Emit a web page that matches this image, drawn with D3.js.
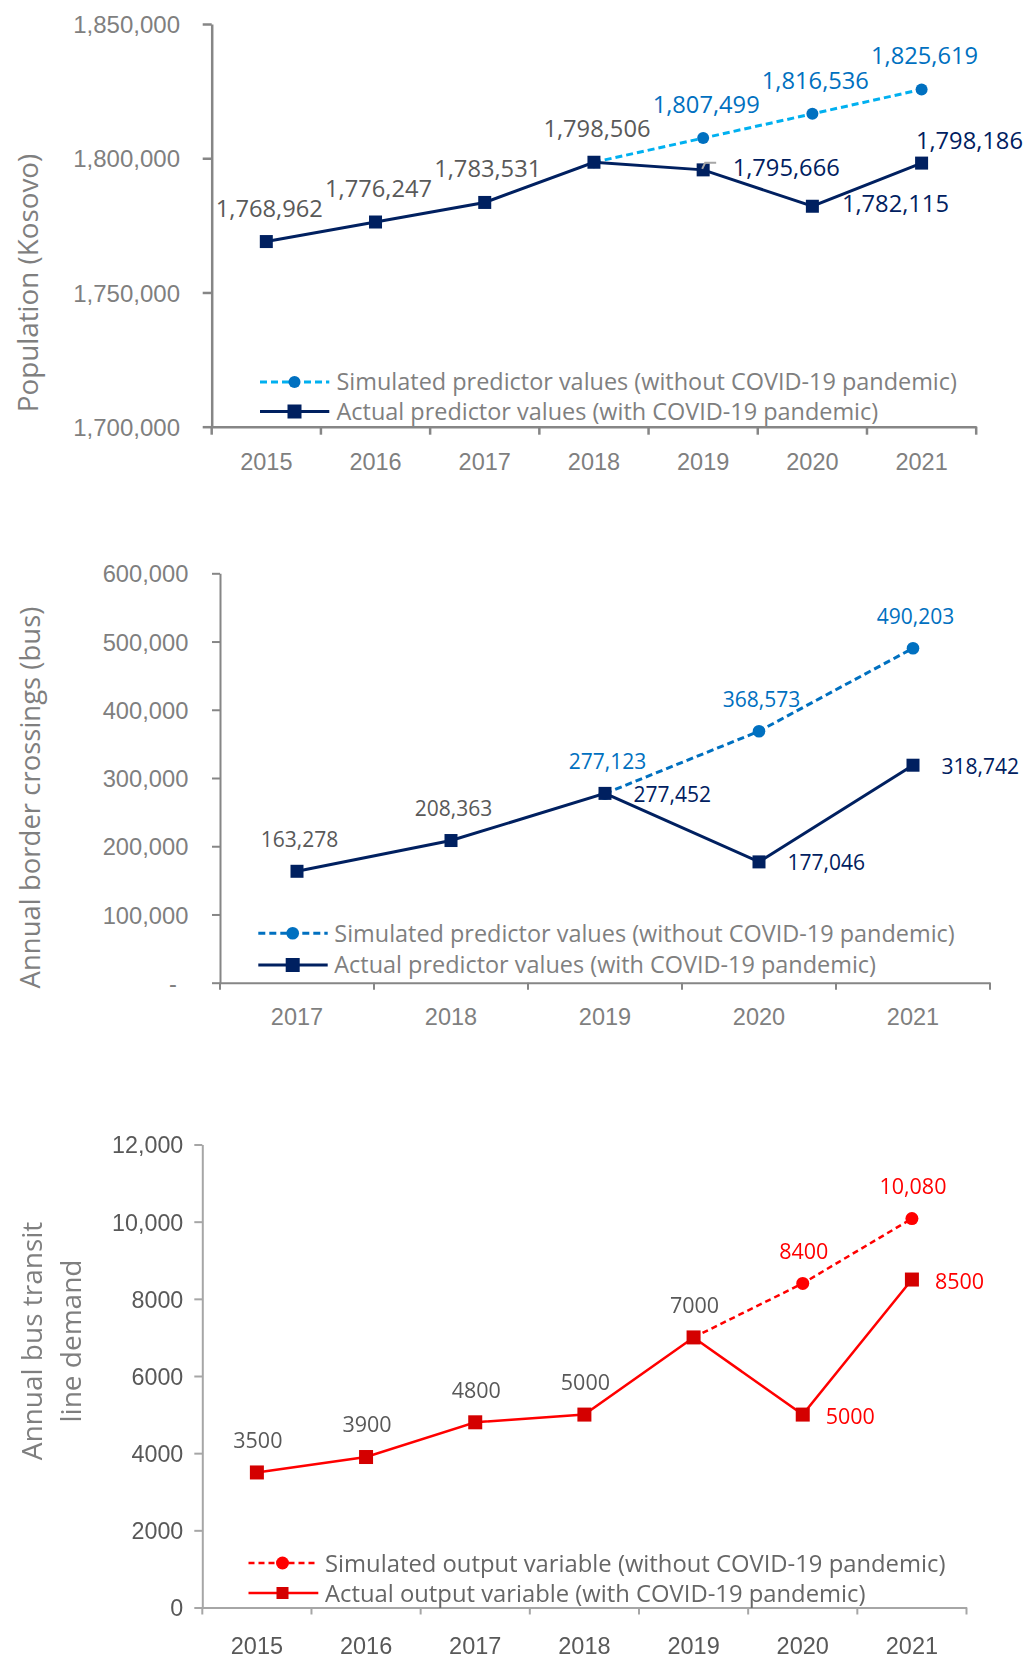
<!DOCTYPE html>
<html>
<head>
<meta charset="utf-8">
<script src="https://cdn.jsdelivr.net/npm/d3@7"></script>
<style>
  html, body { margin: 0; padding: 0; background: #ffffff; }
  svg { display: block; font-family: "Open Sans", "Noto Sans", sans-serif; }
</style>
</head>
<body>
<svg id="fig" width="1036" height="1659"></svg>
<script>
// ---- Population of Kosovo ----
const popYears = ["2015", "2016", "2017", "2018", "2019", "2020", "2021"];
const popActual = [1768962, 1776247, 1783531, 1798506, 1795666, 1782115, 1798186];
const popSimulated = [null, null, null, 1798506, 1807499, 1816536, 1825619];
const popTicks = [1700000, 1750000, 1800000, 1850000];
const popTickLabels = ["1,700,000", "1,750,000", "1,800,000", "1,850,000"];

// ---- Annual border crossings by bus ----
const borderYears = ["2017", "2018", "2019", "2020", "2021"];
const borderActual = [163278, 208363, 277452, 177046, 318742];
const borderSimulated = [null, null, 277123, 368573, 490203];
const borderTicks = [0, 100000, 200000, 300000, 400000, 500000, 600000];
const borderTickLabels = ["-", "100,000", "200,000", "300,000", "400,000", "500,000", "600,000"];

// ---- Annual bus transit line demand ----
const demandYears = ["2015", "2016", "2017", "2018", "2019", "2020", "2021"];
const demandActual = [3500, 3900, 4800, 5000, 7000, 5000, 8500];
const demandSimulated = [null, null, null, null, 7000, 8400, 10080];
const demandTicks = [0, 2000, 4000, 6000, 8000, 10000, 12000];
const demandTickLabels = ["0", "2000", "4000", "6000", "8000", "10,000", "12,000"];

const svg = d3.select("#fig");
svg.append("rect").attr("width", 1036).attr("height", 1659).attr("fill", "#ffffff");
const defs = svg.append("defs");
defs.append("filter").attr("id", "soft")
  .append("feGaussianBlur").attr("stdDeviation", 0.5);

const commaFmt = d3.format(",");

function drawPanel(p) {
  const g = svg.append("g");
  if (p.soft) g.attr("filter", "url(#soft)");

  const x = d3.scaleBand().domain(p.years).range([p.left, p.right]);
  const y = d3.scaleLinear().domain(p.domain).range([p.bottom, p.top]);
  const cx = yr => x(yr) + x.bandwidth() / 2;

  // value axis
  const yAxis = d3.axisLeft(y)
    .tickValues(p.ticks)
    .tickFormat((d, i) => p.tickLabels[i])
    .tickSize(p.yTickLen)
    .tickSizeOuter(0)
    .tickPadding(p.left - p.tickLabelRight - p.yTickLen);
  const ya = g.append("g").attr("transform", `translate(${p.left},0)`).call(yAxis);
  ya.select(".domain").attr("stroke", p.axisColor).attr("stroke-width", p.axisWidth);
  ya.selectAll(".tick line").attr("stroke", p.axisColor).attr("stroke-width", p.axisWidth);
  ya.selectAll(".tick text")
    .attr("fill", p.tickColor)
    .attr("font-size", p.tickSize)
    .attr("font-family", null)
    .attr("dy", "0.36em")
    .filter(d => d === 0 && p.zeroDash)
    .attr("x", -(p.left - p.zeroDash));

  // category axis: labels at band centres, tick marks on band edges
  const xAxis = d3.axisBottom(x).tickSize(0).tickSizeOuter(0);
  const xa = g.append("g").attr("transform", `translate(0,${p.bottom})`).call(xAxis);
  xa.select(".domain").attr("stroke", p.axisColor).attr("stroke-width", p.axisWidth);
  xa.selectAll(".tick text")
    .attr("fill", p.yearColor)
    .attr("font-size", p.yearSize)
    .attr("font-family", null)
    .attr("y", p.yearY - p.bottom)
    .attr("dy", "0.36em");
  const edges = p.years.map(yr => x(yr)).concat([p.right]);
  g.append("g").selectAll("line").data(edges).join("line")
    .attr("x1", d => d).attr("x2", d => d)
    .attr("y1", p.bottom).attr("y2", p.bottom + p.xTickLen)
    .attr("stroke", p.axisColor).attr("stroke-width", p.axisWidth);

  // axis title (rotated, possibly multi-line)
  p.title.forEach((t, i) => {
    g.append("text")
      .attr("transform", `translate(${p.titleX[i]},${p.titleY}) rotate(-90)`)
      .attr("text-anchor", "middle")
      .attr("dy", "0.36em")
      .attr("font-size", p.titleSize)
      .attr("fill", p.titleColor)
      .text(t);
  });

  const actual = p.years.map((yr, i) => ({ yr, v: p.actual[i], i }));
  const sim = p.years.map((yr, i) => ({ yr, v: p.simulated[i], i }));
  const line = d3.line().defined(d => d.v != null).x(d => cx(d.yr)).y(d => y(d.v));

  // simulated series (dashed)
  g.append("path").datum(sim).attr("d", line)
    .attr("fill", "none").attr("stroke", p.simLine)
    .attr("stroke-width", p.lineWidth).attr("stroke-dasharray", p.dash);
  g.append("g").selectAll("circle").data(sim.filter(d => d.v != null)).join("circle")
    .attr("cx", d => cx(d.yr)).attr("cy", d => y(d.v)).attr("r", p.circleR)
    .attr("fill", p.simMarker);

  // actual series (solid)
  g.append("path").datum(actual).attr("d", line)
    .attr("fill", "none").attr("stroke", p.actLine).attr("stroke-width", p.lineWidth);
  g.append("g").selectAll("rect").data(actual).join("rect")
    .attr("x", d => cx(d.yr) - p.square / 2).attr("y", d => y(d.v) - p.square / 2)
    .attr("width", p.square).attr("height", p.square)
    .attr("fill", p.actMarker);

  // leader line for a displaced label
  if (p.leader != null) {
    const d = actual[p.leader];
    const px = cx(d.yr), py = y(d.v);
    g.append("path")
      .attr("d", `M${px + 13},${py - 7} H${px + 2} L${px - 1},${py - 1}`)
      .attr("fill", "none").attr("stroke", "#a6a6a6").attr("stroke-width", 2);
  }

  // data labels
  const labels = g.append("g").attr("font-size", p.labelSize);
  actual.forEach(d => {
    const place = p.placement[d.i];
    const px = cx(d.yr), py = y(d.v);
    const t = labels.append("text").attr("dy", "0.36em").text(p.fmt(d.v));
    if (place === "above") {
      t.attr("x", px + p.aboveDx).attr("y", py + p.aboveDy)
        .attr("text-anchor", "middle").attr("fill", p.labelGrey);
    } else if (place === "right") {
      t.attr("x", px + p.rightDx).attr("y", py + p.rightDy)
        .attr("text-anchor", "start").attr("fill", p.actLabel);
    } else {
      t.attr("x", px + p.aboveRightDx).attr("y", py + p.aboveRightDy)
        .attr("text-anchor", "start").attr("fill", p.actLabel);
    }
  });
  sim.filter(d => d.v != null && d.v !== p.actual[d.i]).forEach(d => {
    labels.append("text").attr("dy", "0.36em")
      .attr("x", cx(d.yr) + p.aboveDx).attr("y", y(d.v) + p.aboveDy)
      .attr("text-anchor", "middle").attr("fill", p.simLabel)
      .text(p.fmt(d.v));
  });

  // legend
  const lg = g.append("g");
  const [r1, r2] = p.legendRows;
  lg.append("line").attr("x1", p.legendX0).attr("x2", p.legendX1).attr("y1", r1).attr("y2", r1)
    .attr("stroke", p.simLine).attr("stroke-width", p.lineWidth).attr("stroke-dasharray", p.dash);
  lg.append("circle").attr("cx", p.legendMark).attr("cy", r1).attr("r", p.circleR).attr("fill", p.simMarker);
  lg.append("line").attr("x1", p.legendX0).attr("x2", p.legendX1).attr("y1", r2).attr("y2", r2)
    .attr("stroke", p.actLine).attr("stroke-width", p.lineWidth);
  lg.append("rect").attr("x", p.legendMark - p.legendSquare / 2).attr("y", r2 - p.legendSquare / 2)
    .attr("width", p.legendSquare).attr("height", p.legendSquare).attr("fill", p.actMarker);
  [p.legendText[0], p.legendText[1]].forEach((t, i) => {
    lg.append("text").attr("x", p.legendTextX).attr("y", p.legendRows[i]).attr("dy", "0.36em")
      .attr("font-size", p.legendSize).attr("fill", p.legendColor).text(t);
  });
}

// Panel 1: population
drawPanel({
  years: popYears, actual: popActual, simulated: popSimulated,
  ticks: popTicks, tickLabels: popTickLabels, domain: [1700000, 1850000],
  left: 211.7, right: 976.2, top: 24, bottom: 426.7,
  axisColor: "#868686", axisWidth: 2.5, yTickLen: 9, xTickLen: 8,
  tickLabelRight: 180, tickSize: 24, tickColor: "#7f7f7f",
  yearY: 461.5, yearSize: 23.5, yearColor: "#7f7f7f",
  title: ["Population (Kosovo)"], titleX: [28], titleY: 283, titleSize: 27.8, titleColor: "#7f7f7f",
  actLine: "#002060", actMarker: "#002060", actLabel: "#002060",
  simLine: "#00b0f0", simMarker: "#0070c0", simLabel: "#0070c0",
  lineWidth: 3, dash: "7,4", square: 13, circleR: 6,
  fmt: commaFmt, labelSize: 23.7, labelGrey: "#595959",
  placement: ["above", "above", "above", "above", "right", "right", "aboveRight"],
  aboveDx: 3, aboveDy: -33.5, rightDx: 29.5, rightDy: -2.5, aboveRightDx: -5.7, aboveRightDy: -22.5,
  leader: 4,
  legendX0: 260, legendX1: 329.3, legendMark: 294.5, legendRows: [382, 411.5], legendSquare: 14,
  legendTextX: 336.5, legendSize: 23.45, legendColor: "#7f7f7f",
  legendText: ["Simulated predictor values (without COVID-19 pandemic)",
               "Actual predictor values (with COVID-19 pandemic)"]
});

// Panel 2: border crossings
drawPanel({
  years: borderYears, actual: borderActual, simulated: borderSimulated,
  ticks: borderTicks, tickLabels: borderTickLabels, domain: [0, 600000], zeroDash: 177,
  left: 220, right: 990, top: 573.3, bottom: 982.7,
  axisColor: "#868686", axisWidth: 2, yTickLen: 8, xTickLen: 7,
  tickLabelRight: 188.3, tickSize: 23.7, tickColor: "#7f7f7f",
  yearY: 1017, yearSize: 23.5, yearColor: "#7f7f7f",
  title: ["Annual border crossings (bus)"], titleX: [30], titleY: 797.5, titleSize: 27.5, titleColor: "#7f7f7f",
  actLine: "#002060", actMarker: "#002060", actLabel: "#002060",
  simLine: "#0070c0", simMarker: "#0070c0", simLabel: "#0070c0",
  lineWidth: 3, dash: "7,4", square: 13, circleR: 6.3,
  fmt: commaFmt, labelSize: 21, labelGrey: "#595959",
  placement: ["above", "above", "right", "right", "right"],
  aboveDx: 2.5, aboveDy: -32, rightDx: 28.5, rightDy: 1,
  leader: null,
  legendX0: 258.3, legendX1: 327.7, legendMark: 292.7, legendRows: [933.3, 965], legendSquare: 14,
  legendTextX: 334.3, legendSize: 23.45, legendColor: "#7f7f7f",
  legendText: ["Simulated predictor values (without COVID-19 pandemic)",
               "Actual predictor values (with COVID-19 pandemic)"]
});

// Panel 3: bus transit line demand
drawPanel({
  years: demandYears, actual: demandActual, simulated: demandSimulated,
  ticks: demandTicks, tickLabels: demandTickLabels, domain: [0, 12000],
  left: 202.3, right: 966.5, top: 1144.5, bottom: 1607.5,
  axisColor: "#a6a6a6", axisWidth: 2, yTickLen: 8, xTickLen: 7,
  tickLabelRight: 183.3, tickSize: 23.3, tickColor: "#595959",
  yearY: 1646, yearSize: 23.5, yearColor: "#595959",
  title: ["Annual bus transit", "line demand"], titleX: [32, 71], titleY: 1341, titleSize: 28, titleColor: "#7f7f7f",
  actLine: "#ff0000", actMarker: "#d40000", actLabel: "#ff0000",
  simLine: "#ff0000", simMarker: "#ff0000", simLabel: "#ff0000",
  lineWidth: 2.5, dash: "6,4", square: 14, circleR: 6.5,
  fmt: v => v >= 10000 ? commaFmt(v) : String(v), labelSize: 21.5, labelGrey: "#595959",
  placement: ["above", "above", "above", "above", "above", "right", "right"],
  aboveDx: 1, aboveDy: -32.5, rightDx: 23, rightDy: 1.5,
  leader: null, soft: true,
  legendX0: 248.5, legendX1: 318.3, legendMark: 282.5, legendRows: [1563, 1593], legendSquare: 12,
  legendTextX: 325, legendSize: 23.8, legendColor: "#666666",
  legendText: ["Simulated output variable (without COVID-19 pandemic)",
               "Actual output variable (with COVID-19 pandemic)"]
});
</script>
</body>
</html>
